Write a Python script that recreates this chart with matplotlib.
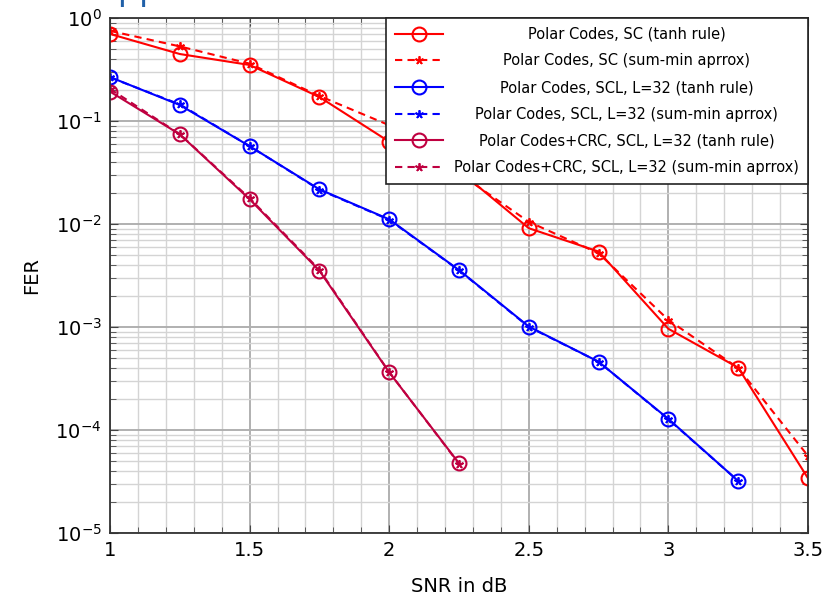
import numpy as np
import matplotlib
matplotlib.use("Agg")
import matplotlib.pyplot as plt
from matplotlib.ticker import MultipleLocator, LogLocator, NullFormatter, FormatStrFormatter

# Daten
snr = [1.0, 1.25, 1.5, 1.75, 2.0, 2.25, 2.5, 2.75, 3.0, 3.25, 3.5]
snr_crc = [1.0, 1.25, 1.5, 1.75, 2.0, 2.25]
snr_scl = [1.0, 1.25, 1.5, 1.75, 2.0, 2.25, 2.5, 2.75, 3.0, 3.25]

sc_tanh = [0.70, 0.447, 0.35, 0.171, 0.063, 0.033, 0.0091, 0.0054, 0.00096, 0.000403, 3.4e-5]
sc_minsum = [0.75, 0.53, 0.36, 0.175, 0.091, 0.031, 0.0105, 0.0052, 0.00117, 0.00040, 5.6e-5]
scl_tanh = [0.267, 0.143, 0.057, 0.0217, 0.0111, 0.00357, 0.00101, 0.00046, 0.000128, 3.2e-5]
scl_minsum = [0.265, 0.145, 0.057, 0.0215, 0.0110, 0.00355, 0.00100, 0.00046, 0.000127, 3.2e-5]
crc_tanh = [0.193, 0.0742, 0.0174, 0.00352, 0.000363, 4.75e-5]
crc_minsum = [0.205, 0.0745, 0.0178, 0.0036, 0.000365, 4.7e-5]

labels = ["Polar Codes, SC (tanh rule)",
          "Polar Codes, SC (sum-min aprrox)",
          "Polar Codes, SCL, L=32 (tanh rule)",
          "Polar Codes, SCL, L=32 (sum-min aprrox)",
          "Polar Codes+CRC, SCL, L=32 (tanh rule)",
          "Polar Codes+CRC, SCL, L=32 (sum-min aprrox)"]

ROT = "#FF0000"
BLAU = "#0000FF"
LILA = "#BF0040"
STAR = (5, 2, 0)


def kurve(ax, x, y, farbe, label, gestrichelt=False):
    if gestrichelt:
        ax.plot(x, y, color=farbe, lw=1.5, ls=(0, (3.5, 2.5)), marker=STAR,
                ms=6, mew=1.3, label=label)
    else:
        ax.plot(x, y, color=farbe, lw=1.5, marker="o", ms=10, mew=1.5,
                mfc="none", label=label)


def main():
    plt.rcParams["font.family"] = "DejaVu Sans"
    fig = plt.figure(figsize=(8.24, 5.98), dpi=100)
    ax = fig.add_axes([110/824, 1-533/598, 698/824, 515/598])

    kurve(ax, snr, sc_tanh, ROT, labels[0])
    kurve(ax, snr, sc_minsum, ROT, labels[1], True)
    kurve(ax, snr_scl, scl_tanh, BLAU, labels[2])
    kurve(ax, snr_scl, scl_minsum, BLAU, labels[3], True)
    kurve(ax, snr_crc, crc_tanh, LILA, labels[4])
    kurve(ax, snr_crc, crc_minsum, LILA, labels[5], True)

    ax.set_yscale("log")
    ax.set_xlim(1, 3.5)
    ax.set_ylim(1e-5, 1)
    ax.xaxis.set_major_locator(MultipleLocator(0.5))
    ax.xaxis.set_minor_locator(MultipleLocator(0.1))
    ax.xaxis.set_major_formatter(FormatStrFormatter("%g"))
    ax.yaxis.set_major_locator(LogLocator(base=10, numticks=10))
    ax.yaxis.set_minor_locator(LogLocator(base=10, subs=np.arange(2, 10), numticks=20))
    ax.yaxis.set_minor_formatter(NullFormatter())
    ax.grid(which="major", color="#b0b0b0", lw=1.4)
    ax.grid(which="minor", color="#d4d4d4", lw=1.0)
    ax.set_axisbelow(True)
    ax.tick_params(which="both", direction="in", top=True, right=True,
                   labelsize=14, color="#444444")
    ax.tick_params(which="major", length=6, pad=6)
    ax.tick_params(which="minor", length=4)
    for s in ax.spines.values():
        s.set_linewidth(1.3)
        s.set_color("#333333")
    ax.set_xlabel("SNR in dB", fontsize=14, labelpad=12)
    ax.set_ylabel("FER", fontsize=14, labelpad=10)

    leg = ax.legend(loc="upper right", fontsize=10.5, frameon=True, fancybox=False,
                    framealpha=1, edgecolor="#222222", handlelength=3.3,
                    labelspacing=0.8, borderaxespad=0, borderpad=0.6)
    leg.get_frame().set_linewidth(1.2)

    # Legendentexte zentrieren
    fig.canvas.draw()
    r = fig.canvas.get_renderer()
    breiten = [t.get_window_extent(r).width for t in leg.get_texts()]
    bmax = max(breiten)
    for t, b in zip(leg.get_texts(), breiten):
        t.set_position(((bmax - b) / 2, 0))

    # abgeschnittener Folientitel
    fig.text(96/824, 1.0, "Approximation", color="#2060A8", fontsize=24, va="baseline")

    fig.savefig("out.png", dpi=100)


if __name__ == "__main__":
    main()
